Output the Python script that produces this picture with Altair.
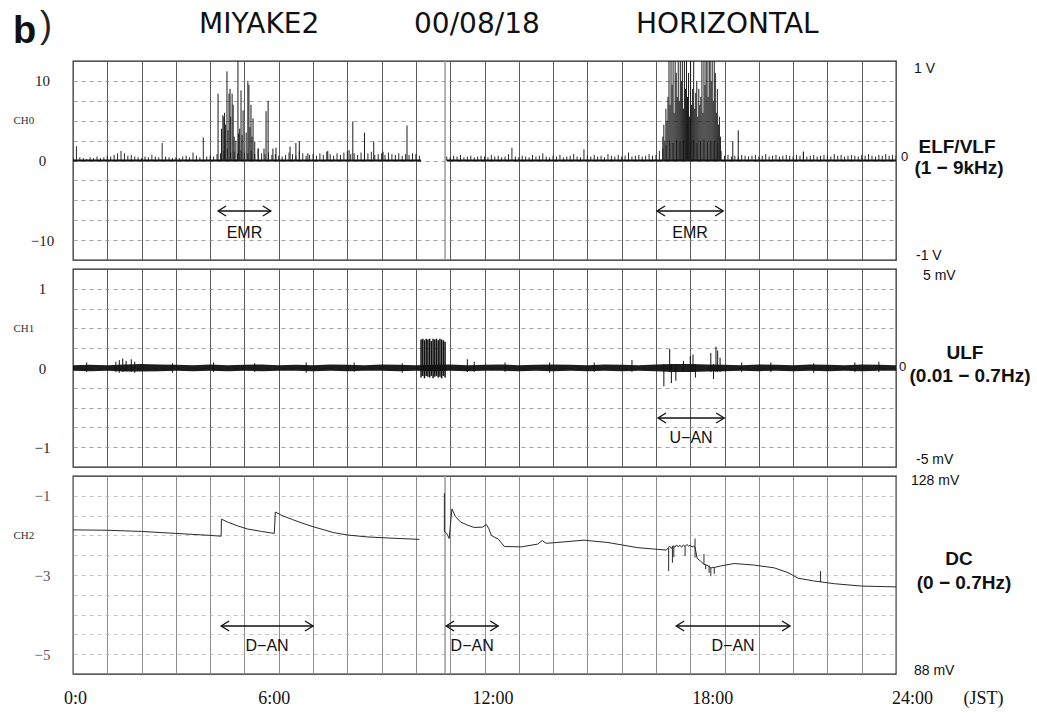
import altair as alt
import pandas as pd

# ---------------- time axis (hours, JST) ----------------
DAY = [0, 24]
HOUR_TICKS = list(range(25))

# ---------------- CH0 : ELF/VLF (1 - 9 kHz) ----------------
# background "grass" heights sampled every 0.1 h, before and after the recording gap
ELF_GRASS_A_START = 0.0
ELF_GRASS_A = [
    0.3, 1.8, 0.4, 0.3, 0.2, 0.4, 0.3, 0.5, 0.3, 0.4,
    0.6, 0.5, 0.7, 0.9, 1.2, 0.9, 0.6, 0.7, 0.5, 0.4,
    0.3, 0.5, 0.4, 0.7, 0.5, 0.4, 2.2, 0.5, 0.4, 0.3,
    0.4, 0.3, 0.5, 0.6, 0.4, 1.0, 0.6, 0.4, 2.9, 0.5,
    0.6, 0.5, 0.8, 0.9, 1.2, 1.5, 1.0, 1.1, 0.9, 1.3,
    1.0, 0.9, 1.2, 0.8, 1.5, 0.9, 0.8, 1.0, 0.7, 0.8,
    0.6, 0.5, 0.7, 1.0, 0.8, 0.6, 1.2, 0.9, 0.6, 0.7,
    0.8, 0.6, 0.9, 0.7, 1.1, 0.8, 0.6, 0.9, 0.7, 1.0,
    1.2, 0.8, 0.9, 0.7, 1.0, 0.8, 0.9, 1.1, 0.7, 0.8,
    0.9, 0.7, 1.0, 0.8, 0.7, 0.9, 0.6, 0.8, 0.7, 0.9,
    0.8, 0.6,
]
ELF_GRASS_B_START = 10.9
ELF_GRASS_B = [
    0.5, 0.4, 0.6, 0.5, 0.7, 0.4, 0.5, 0.6, 0.4, 0.5,
    0.6, 0.5, 0.4, 0.7, 0.5, 0.6, 0.4, 0.5, 0.8, 1.6,
    0.5, 0.4, 0.6, 0.5, 0.4, 0.7, 0.5, 0.6, 0.9, 0.5,
    0.4, 0.6, 0.5, 0.7, 0.4, 0.5, 0.6, 0.8, 0.5, 0.4,
    1.4, 0.6, 0.5, 0.7, 0.5, 0.6, 0.4, 0.8, 0.6, 0.5,
    0.7, 0.5, 0.6, 1.0, 0.5, 0.6, 0.7, 0.5, 0.6, 0.8,
    0.6, 0.7, 1.2, 1.5, 2.0, 2.5, 2.2, 2.6, 2.4, 2.5,
    2.6, 2.3, 2.5, 2.2, 2.4, 2.6, 2.3, 2.5, 2.4, 2.2,
    1.2, 0.6, 0.7, 0.5, 0.6, 0.5, 0.7, 0.6, 0.5, 0.6,
    0.7, 0.5, 0.6, 0.8, 0.5, 0.6, 0.7, 0.5, 0.6, 0.7,
    0.6, 0.5, 0.7, 0.6, 1.1, 0.5, 0.6, 0.7, 0.5, 0.6,
    0.7, 0.6, 0.5, 0.8, 0.6, 0.7, 0.5, 0.6, 0.7, 0.6,
    0.5, 0.7, 0.6, 0.8, 0.6, 0.5, 0.7, 0.6, 0.8, 0.6,
    0.7, 0.6,
]
ELF_TRACE_FROM = [0.0, 10.9]
ELF_TRACE_TO = [10.15, 24.0]
ELF_SPIKE_T = [4.23, 4.33, 4.37, 4.40, 4.42, 4.45, 4.49, 4.52, 4.55, 4.58,
               4.60, 4.64, 4.67, 4.70, 4.75, 4.81, 4.83, 4.86, 4.90, 4.93,
               4.96, 5.05, 5.10, 5.13, 5.16, 5.19, 5.22, 5.25, 5.30, 5.40,
               5.57, 5.63, 5.69, 5.83, 5.92, 6.33, 6.50, 6.60, 6.85, 7.43,
               8.05, 8.16, 8.50, 8.77, 9.04, 9.74,
               19.24, 19.40, 21.30]
ELF_SPIKE_V = [8.4, 4.0, 5.7, 5.5, 6.0, 4.5, 11.2, 3.8, 8.4, 9.0,
               5.5, 8.4, 7.0, 3.0, 2.5, 13.0, 3.4, 4.0, 8.8, 3.2,
               6.3, 3.5, 10.0, 9.5, 4.2, 7.0, 3.0, 5.3, 2.4, 1.5,
               1.5, 6.2, 7.5, 1.5, 1.6, 1.75, 2.2, 2.4, 0.9, 1.2,
               1.3, 4.9, 3.5, 2.4, 1.1, 4.4,
               2.4, 3.8, 1.1]
# dense afternoon burst, one spike every 0.03 h from 17.20 h
ELF_BURST_START = 17.20
ELF_BURST_V = [3.0, 4.5, 2.5, 6.5, 5.0, 8.0, 13, 7.0, 13, 9.5,
               13, 6.0, 13, 11, 8.0, 13, 7.5, 13, 10, 13,
               6.5, 13, 9.0, 13, 8.0, 11, 5.5, 13, 7.0, 9.0,
               13, 6.5, 8.5, 10, 5.5, 9.0, 7.0, 8.0, 13, 6.0,
               13, 9.5, 13, 13, 8.0, 13, 13, 10, 13, 7.5,
               13, 11, 6.0, 9.0, 4.5, 5.5, 3.0]

# ---------------- CH1 : ULF (0.01 - 0.7 Hz) ----------------
ULF_BAND_START = 0.0
ULF_HI = [0.035, 0.04, 0.035, 0.045, 0.05, 0.045, 0.04, 0.035, 0.045, 0.035,
          0.04, 0.045, 0.035, 0.04, 0.035, 0.045, 0.04, 0.035, 0.045, 0.04,
          0.035, 0.04, 0.045, 0.035, 0.04, 0.045, 0.035, 0.04, 0.045, 0.04,
          0.035, 0.045, 0.04, 0.035, 0.045, 0.05, 0.05, 0.045, 0.04, 0.035,
          0.045, 0.04, 0.035, 0.045, 0.04, 0.035, 0.045, 0.04, 0.035]
ULF_LO = [-0.035, -0.04, -0.035, -0.045, -0.045, -0.04, -0.035, -0.04, -0.035, -0.04,
          -0.035, -0.04, -0.035, -0.035, -0.04, -0.035, -0.04, -0.035, -0.035, -0.04,
          -0.035, -0.04, -0.035, -0.04, -0.035, -0.035, -0.04, -0.035, -0.04, -0.035,
          -0.04, -0.035, -0.04, -0.035, -0.04, -0.05, -0.05, -0.045, -0.04, -0.035,
          -0.04, -0.035, -0.04, -0.035, -0.04, -0.035, -0.04, -0.035, -0.035]
ULF_BLOCK_START = 10.15
ULF_BLOCK_HI = [0.36, 0.37, 0.35, 0.37, 0.36, 0.37, 0.34, 0.37, 0.36, 0.37,
                0.35, 0.37, 0.36, 0.35, 0.33]
ULF_BLOCK_LO = [-0.12, -0.10, -0.13, -0.10, -0.11, -0.12, -0.10, -0.13, -0.11, -0.10,
                -0.12, -0.11, -0.13, -0.10, -0.12]
ULF_SPIKE_T = [0.4, 1.25, 1.35, 1.45, 1.55, 1.7, 1.8, 2.9, 4.1, 5.3, 6.8, 8.2, 9.6,
               11.5, 11.7, 12.6, 13.9, 15.2, 16.3, 17.23, 17.4, 17.45, 17.58, 17.8,
               18.0, 18.08, 18.15, 18.6, 18.68, 18.75, 18.8, 18.87, 19.5, 20.35,
               21.6, 22.8, 23.5]
ULF_SPIKE_LO = [-0.05, -0.05, -0.06, -0.05, -0.04, -0.05, -0.06, -0.06, -0.05, -0.05,
                -0.06, -0.05, -0.06, -0.05, -0.05, -0.05, -0.06, -0.05, -0.05, -0.23,
                -0.05, -0.19, -0.16, -0.05, -0.05, -0.05, -0.12, -0.05, -0.14, -0.05,
                -0.05, -0.05, -0.05, -0.05, -0.06, -0.05, -0.05]
ULF_SPIKE_HI = [0.07, 0.08, 0.10, 0.12, 0.09, 0.11, 0.08, 0.06, 0.07, 0.06,
                0.07, 0.07, 0.06, 0.11, 0.08, 0.07, 0.07, 0.07, 0.10, 0.05,
                0.24, 0.05, 0.05, 0.09, 0.15, 0.17, 0.05, 0.19, 0.05, 0.27,
                0.22, 0.13, 0.07, 0.07, 0.06, 0.07, 0.08]

# ---------------- CH2 : DC (0 - 0.7 Hz) ----------------
DC_T_A = [0.0, 1.0, 2.0, 3.0, 4.0, 4.32, 4.33, 4.5, 4.8, 5.1, 5.5, 5.87, 5.90,
          6.1, 6.4, 6.65, 7.0, 7.6, 8.0, 8.6, 9.3, 10.1]
DC_V_A = [-1.86, -1.87, -1.90, -1.95, -2.00, -2.02, -1.59, -1.66, -1.76, -1.84, -1.90,
          -1.95, -1.41, -1.50, -1.60, -1.68, -1.78, -1.93, -1.99, -2.04, -2.07, -2.10]
DC_T_B = [10.82, 10.9, 10.97, 11.02, 11.05, 11.15, 11.3, 11.5, 11.7, 11.95, 12.05,
          12.12, 12.2, 12.3, 12.4, 12.58, 13.07, 13.55, 13.68, 13.8, 14.23, 14.9,
          15.6, 16.47, 17.3, 17.35, 17.4, 17.45, 17.5, 17.55, 17.6, 17.65, 17.7,
          17.75, 17.8, 17.85, 17.9, 17.95, 18.0, 18.05, 18.1, 18.14, 18.2, 18.3,
          18.4, 18.5, 18.6, 18.75, 18.9, 19.28, 19.87, 20.45, 20.85, 21.14, 21.6,
          22.2, 23.0, 24.0]
DC_V_B = [-1.89, -1.95, -2.08, -1.60, -1.33, -1.52, -1.66, -1.74, -1.80, -1.79, -1.72,
          -1.82, -2.00, -2.05, -2.09, -2.28, -2.29, -2.22, -2.13, -2.20, -2.17, -2.12,
          -2.18, -2.31, -2.37, -2.32, -2.27, -2.33, -2.26, -2.30, -2.24, -2.29, -2.25,
          -2.30, -2.24, -2.28, -2.23, -2.27, -2.25, -2.29, -2.27, -2.30, -2.58, -2.65,
          -2.73, -2.76, -2.82, -2.80, -2.77, -2.71, -2.75, -2.82, -2.94, -3.08, -3.15,
          -3.22, -3.28, -3.30]
DC_SPIKE_T = [10.83, 17.37, 17.48, 17.52, 17.85, 18.14, 18.4, 18.45, 18.55, 18.6, 18.7, 21.8]
DC_SPIKE_LO = [-1.89, -2.90, -2.69, -2.55, -2.52, -2.56, -2.73, -2.85, -2.95, -3.03, -2.97, -3.18]
DC_SPIKE_HI = [-0.93, -2.32, -2.28, -2.27, -2.27, -2.08, -2.47, -2.73, -2.76, -2.82, -2.80, -2.90]

# end of the recording gap
GAP_MARK = [10.85]

# anomaly intervals (hours)
EMR_FROM, EMR_TO = [4.23, 17.03], [5.77, 18.96]
UAN_FROM, UAN_TO = [17.06], [18.99]
DAN_FROM, DAN_TO = [4.32, 10.88, 17.59], [7.0, 12.4, 20.91]


def stepped(start, step, values):
    return [round(start + step * i, 3) for i in range(len(values))]


# ---------------- tables ----------------
elf_grass = pd.DataFrame({
    "t": stepped(ELF_GRASS_A_START, 0.1, ELF_GRASS_A) + stepped(ELF_GRASS_B_START, 0.1, ELF_GRASS_B),
    "v": ELF_GRASS_A + ELF_GRASS_B,
})
elf_trace = pd.DataFrame({"t": ELF_TRACE_FROM, "t1": ELF_TRACE_TO, "v": [0.0] * len(ELF_TRACE_FROM)})
elf_spikes = pd.DataFrame({
    "t": ELF_SPIKE_T + stepped(ELF_BURST_START, 0.03, ELF_BURST_V),
    "v": ELF_SPIKE_V + ELF_BURST_V,
})
ulf_band = pd.DataFrame({"t": stepped(ULF_BAND_START, 0.5, ULF_HI), "hi": ULF_HI, "lo": ULF_LO})
ulf_block = pd.DataFrame({"t": stepped(ULF_BLOCK_START, 0.05, ULF_BLOCK_HI),
                          "hi": ULF_BLOCK_HI, "lo": ULF_BLOCK_LO})
ulf_spikes = pd.DataFrame({"t": ULF_SPIKE_T, "hi": ULF_SPIKE_HI, "lo": ULF_SPIKE_LO})
dc_line = pd.DataFrame({"t": DC_T_A + DC_T_B, "v": DC_V_A + DC_V_B,
                        "seg": [0] * len(DC_T_A) + [1] * len(DC_T_B)})
dc_spikes = pd.DataFrame({"t": DC_SPIKE_T, "hi": DC_SPIKE_HI, "lo": DC_SPIKE_LO})
gap = pd.DataFrame({"t": GAP_MARK})

W = 823
INK = "#111111"
XS = alt.Scale(domain=DAY, nice=False, zero=False)
SANS = "Liberation Sans"
SERIF = "Liberation Serif"


def x_grid_axis(color):
    return alt.Axis(values=HOUR_TICKS, grid=True, gridColor=color, gridWidth=1,
                    labels=False, ticks=False, tickSize=0, domain=False, title=None)


def y_axis(values, label_test, title, label_color="#222222", grid_color="#8c8c8c"):
    return alt.Axis(values=values, format="~g", labelExpr=f"{label_test} ? datum.label : ''",
                    grid=True, gridColor=grid_color, gridDash=[4, 4], gridWidth=0.8,
                    ticks=False, tickSize=0, domain=False, labelOverlap=False, labelFlush=False,
                    labelFont=SERIF, labelFontSize=15, labelColor=label_color,
                    labelAlign="center", labelBaseline="middle", labelPadding=31,
                    title=title, titleAngle=0, titleX=-60, titleY=59, titleAlign="left",
                    titleBaseline="middle", titleFont=SERIF, titleFontSize=11,
                    titleFontWeight="normal", titleColor="#333333")


class Panel:
    """Shared x / y encodings so that every layer of a panel merges into one set of axes."""

    def __init__(self, yscale, yaxis, xaxis, ytitle, xtitle=None):
        self.ys, self.ya, self.xa, self.yt, self.xt = yscale, yaxis, xaxis, ytitle, xtitle

    def x(self, field="t"):
        return alt.X(f"{field}:Q", scale=XS, axis=self.xa, title=self.xt)

    def y(self, field):
        return alt.Y(f"{field}:Q", scale=self.ys, axis=self.ya, title=self.yt)


def note(text, x, y, size=14, weight="normal", font=SANS, align="left", baseline="middle",
         color=INK):
    return alt.Chart(alt.Data(values=[{}])).mark_text(
        text=text, font=font, fontSize=size, fontWeight=weight, align=align,
        baseline=baseline, color=color,
    ).encode(x=alt.value(x), y=alt.value(y))


def arrows(pn, t_from, t_to, label, y_line, y_text):
    df = pd.DataFrame({"t": t_from, "t1": t_to})
    base = alt.Chart(df)
    line = base.mark_rule(color=INK, strokeWidth=1.3).encode(
        x=pn.x(), x2="t1:Q", y=alt.value(y_line))
    left = base.mark_point(shape="M2,-1.25L0,0L2,1.25", size=64, filled=False,
                           color=INK, strokeWidth=1.3, opacity=1).encode(
        x=pn.x(), y=alt.value(y_line))
    right = base.mark_point(shape="M-2,-1.25L0,0L-2,1.25", size=64, filled=False,
                            color=INK, strokeWidth=1.3, opacity=1).encode(
        x=pn.x("t1"), y=alt.value(y_line))
    text = base.transform_calculate(tm="(datum.t + datum.t1) / 2").mark_text(
        text=label, font=SANS, fontSize=16, color=INK, baseline="middle").encode(
        x=pn.x("tm"), y=alt.value(y_text))
    return [line, left, right, text]


# ---------------- panel 1 : ELF/VLF ----------------
P1 = Panel(alt.Scale(domain=[-12.5, 12.5], nice=False, zero=False),
           y_axis([-10, -7.5, -5, -2.5, 0, 2.5, 5, 7.5, 10], "datum.value % 10 == 0", "CH0"),
           x_grid_axis("#5a5a5a"), "CH0")

p1_grass = alt.Chart(elf_grass).mark_rule(color=INK, strokeWidth=0.9, clip=True).encode(
    x=P1.x(), y=P1.y("v"), y2=alt.datum(0))
p1_trace = alt.Chart(elf_trace).mark_rule(color=INK, strokeWidth=2).encode(
    x=P1.x(), x2="t1:Q", y=P1.y("v"))
p1_spikes = alt.Chart(elf_spikes).mark_rule(color="#1a1a1a", strokeWidth=1, clip=True).encode(
    x=P1.x(), y=P1.y("v"), y2=alt.datum(0))
p1_gap = alt.Chart(gap).mark_rule(color="#9a9a9a", strokeWidth=1.5).encode(x=P1.x())
anchor = alt.Chart(alt.Data(values=[{}])).mark_point(size=0, opacity=0, filled=True).encode(
    x=alt.value(-72), y=alt.value(-60))

panel1 = alt.layer(
    p1_grass, p1_gap, p1_trace, p1_spikes,
    *arrows(P1, EMR_FROM, EMR_TO, "EMR", 150, 172),
    note("b", -60, -18, size=38, weight="bold", baseline="alphabetic"),
    note(")", -33, -24, size=36, baseline="alphabetic", color="#222222"),
    note("MIYAKE2", 126, -28, size=28, font="DejaVu Sans", baseline="alphabetic"),
    note("00/08/18", 341, -28, size=28, font="DejaVu Sans", baseline="alphabetic"),
    note("HORIZONTAL", 563, -28, size=28, font="DejaVu Sans", baseline="alphabetic"),
    note("1 V", 841, 8),
    note("0", 828, 96, size=13),
    note("ELF/VLF", 884, 86, size=19, weight="bold", align="center"),
    note("(1 \u2212 9kHz)", 886, 107, size=19, weight="bold", align="center"),
    note("-1 V", 843, 195),
    anchor,
).properties(width=W, height=199)

# ---------------- panel 2 : ULF ----------------
P2 = Panel(alt.Scale(domain=[-1.25, 1.25], nice=False, zero=False),
           y_axis([-1, -0.75, -0.5, -0.25, 0, 0.25, 0.5, 0.75, 1], "datum.value % 1 == 0", "CH1"),
           x_grid_axis("#5a5a5a"), "CH1")

p2_band = alt.Chart(ulf_band).mark_area(color=INK, opacity=0.95).encode(
    x=P2.x(), y=P2.y("hi"), y2="lo:Q")
p2_spikes = alt.Chart(ulf_spikes).mark_rule(color=INK, strokeWidth=1).encode(
    x=P2.x(), y=P2.y("hi"), y2="lo:Q")
p2_block = alt.Chart(ulf_block).mark_rule(color=INK, strokeWidth=1.5).encode(
    x=P2.x(), y=P2.y("hi"), y2="lo:Q")

panel2 = alt.layer(
    p2_band, p2_spikes, p2_block,
    *arrows(P2, UAN_FROM, UAN_TO, "U\u2212AN", 149, 169),
    note("5 mV", 850, 7),
    note("0", 826, 98, size=13),
    note("ULF", 892, 84, size=19, weight="bold", align="center"),
    note("(0.01 \u2212 0.7Hz)", 897, 107, size=19, weight="bold", align="center"),
    note("-5 mV", 843, 191),
).properties(width=W, height=198)

# ---------------- panel 3 : DC ----------------
x3_axis = alt.Axis(
    values=HOUR_TICKS, grid=True, gridColor="#808080", gridWidth=0.9,
    ticks=False, tickSize=0, domain=False, labelOverlap=False, labelFlush=False,
    labelExpr="datum.value == 0 ? '0:0' : (datum.value % 6 == 0 ? datum.value + ':00' : '')",
    labelFont=SERIF, labelFontSize=18, labelColor=INK, labelPadding=24, labelBaseline="middle",
    labelOffset={"condition": [
        {"test": "datum.value == 6", "value": -5},
        {"test": "datum.value == 12", "value": 8},
        {"test": "datum.value == 18", "value": 22},
        {"test": "datum.value == 24", "value": 16},
    ], "value": 2},
    title="(JST)", titleFont=SERIF, titleFontSize=18, titleFontWeight="normal", titleColor=INK,
    titleX=890, titleY=24, titleAlign="left", titleBaseline="middle",
)
P3 = Panel(alt.Scale(domain=[-5.5, -0.5], nice=False, zero=False),
           y_axis([-5, -4.5, -4, -3.5, -3, -2.5, -2, -1.5, -1], "datum.value % 2 == -1", "CH2",
                  label_color="#555555", grid_color="#b4b4b4"),
           x3_axis, "CH2", "(JST)")

p3_line = alt.Chart(dc_line).mark_line(color="#2a2a2a", strokeWidth=1).encode(
    x=P3.x(), y=P3.y("v"), detail="seg:N")
p3_spikes = alt.Chart(dc_spikes).mark_rule(color="#2a2a2a", strokeWidth=1).encode(
    x=P3.x(), y=P3.y("hi"), y2="lo:Q")
p3_gap = alt.Chart(gap).mark_rule(color="#9a9a9a", strokeWidth=1.5).encode(x=P3.x())

panel3 = alt.layer(
    p3_gap, p3_line, p3_spikes,
    *arrows(P3, DAN_FROM, DAN_TO, "D\u2212AN", 150, 170),
    note("128 mV", 838, 5),
    note("DC", 886, 83, size=19, weight="bold", align="center"),
    note("(0 \u2212 0.7Hz)", 891, 107, size=19, weight="bold", align="center"),
    note("88 mV", 841, 195),
).properties(width=W, height=198)

chart = alt.vconcat(panel1, panel2, panel3, spacing=9, bounds="flush").properties(
    padding=0, background="white"
).configure_view(stroke="#222222", strokeWidth=1.3)

chart.save("out.html", embed_options={"renderer": "svg", "actions": False})
